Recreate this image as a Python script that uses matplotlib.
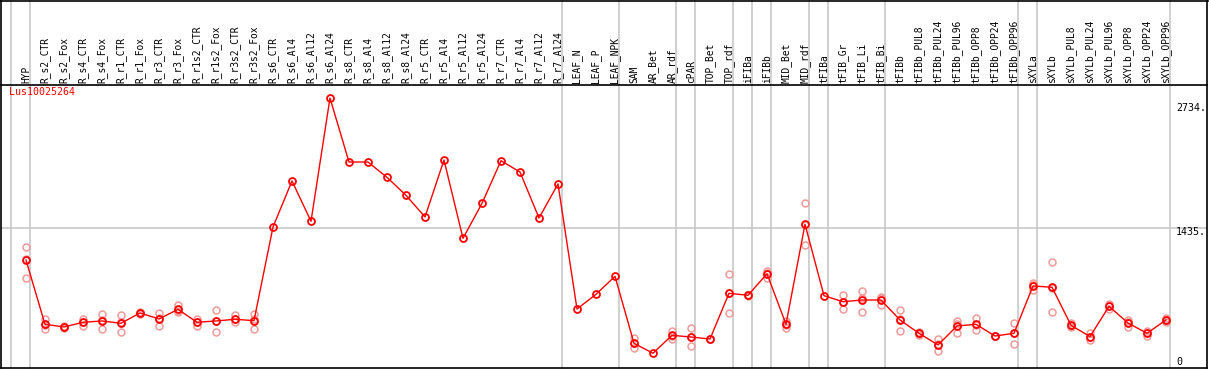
import matplotlib
matplotlib.use("Agg")
import matplotlib.pyplot as plt
from matplotlib.lines import Line2D
from matplotlib.transforms import blended_transform_factory

# sample names along the x axis
samples = [
    "HYP", "R_s2_CTR", "R_s2_Fox", "R_s4_CTR", "R_s4_Fox", "R_r1_CTR", "R_r1_Fox",
    "R_r3_CTR", "R_r3_Fox", "R_r1s2_CTR", "R_r1s2_Fox", "R_r3s2_CTR", "R_r3s2_Fox",
    "R_s6_CTR", "R_s6_Al4", "R_s6_Al12", "R_s6_Al24", "R_s8_CTR", "R_s8_Al4",
    "R_s8_Al12", "R_s8_Al24", "R_r5_CTR", "R_r5_Al4", "R_r5_Al12", "R_r5_Al24",
    "R_r7_CTR", "R_r7_Al4", "R_r7_Al12", "R_r7_Al24", "LEAF_N", "LEAF_P", "LEAF_NPK",
    "SAM", "AR_Bet", "AR_rdf", "cPAR", "TOP_Bet", "TOP_rdf", "iFIBa", "iFIBb",
    "MID_Bet", "MID_rdf", "tFIBa", "tFIB_Gr", "tFIB_Li", "tFIB_Bi", "tFIBb",
    "tFIBb_PUL8", "tFIBb_PUL24", "tFIBb_PUL96", "tFIBb_OPP8", "tFIBb_OPP24",
    "tFIBb_OPP96", "sXYLa", "sXYLb", "sXYLb_PUL8", "sXYLb_PUL24", "sXYLb_PUL96",
    "sXYLb_OPP8", "sXYLb_OPP24", "sXYLb_OPP96",
]

# mean expression per sample
means = [
    1119, 478, 451, 498, 511, 488, 591, 531, 627, 498, 511, 528, 514,
    1448, 1907, 1505, 2734, 2096, 2096, 1943, 1764, 1548, 2116, 1335, 1684,
    2109, 1996, 1538, 1877, 630, 777, 956,
    288, 189, 368, 351, 331, 787, 767, 982, 478, 1475,
    763, 703, 720, 720, 521, 388, 272, 461, 478, 361, 388,
    860, 847, 468, 355, 657, 491, 388, 521,
]

# individual replicates (empty where only the mean is shown)
replicates = [
    [1245, 1132, 936], [534, 470, 431], [461, 451, 441], [534, 498, 464],
    [578, 520, 435], [568, 498, 398], [600, 591, 582], [591, 538, 464],
    [673, 610, 598], [534, 498, 464], [621, 514, 398], [568, 528, 498],
    [578, 530, 435],
    [], [], [], [], [], [], [], [], [], [], [], [], [], [], [], [], [], [], [],
    [338, 288, 245], [], [414, 365, 328], [441, 350, 262], [335, 331, 327],
    [976, 790, 588], [770, 767, 764], [1012, 992, 939], [514, 475, 444],
    [1690, 1470, 1265],
    [], [767, 705, 634], [810, 745, 604], [753, 740, 667], [617, 535, 411],
    [405, 385, 375], [328, 280, 208], [511, 477, 395], [541, 468, 425],
    [365, 361, 357], [491, 388, 285],
    [887, 873, 820], [1096, 844, 601], [488, 461, 455], [388, 356, 321],
    [677, 660, 634], [521, 497, 455], [411, 392, 361], [541, 518, 505],
]

# last sample index of each tissue group
group_ends = [-1, 0, 28, 31, 34, 35, 37, 38, 39, 41, 42, 45, 52, 53, 60]

gene = "Lus10025264"
ref_lines = [1435]
y_labels = ["2734.", "1435.", "0"]

W, H = 1209, 370
fig = plt.figure(figsize=(W / 100, H / 100), dpi=100)
fig.patch.set_facecolor("white")

top_px, bot_px, left_px, right_px = 85, 368, 1, 1207
ax = fig.add_axes([left_px / W, (H - bot_px) / H,
                   (right_px - left_px) / W, (bot_px - top_px) / H])
ax.set_xlim((left_px - 26) / 19, (right_px - 26) / 19)
ax.set_ylim(42, 2864)
ax.axis("off")

gray = "#c8c8c8"
trans = blended_transform_factory(ax.transData, ax.transAxes)
top_ax = bot_px / (bot_px - top_px)
for g in group_ends:
    ax.plot([g + 0.22, g + 0.22], [0, top_ax], color=gray, lw=1.2,
            transform=trans, clip_on=False, zorder=1)
for v in ref_lines:
    ax.axhline(v, color=gray, lw=1.2, zorder=1)

xs = list(range(len(samples)))
rx, ry = [], []
for i, reps in enumerate(replicates):
    for r in reps:
        rx.append(i)
        ry.append(r)
ax.plot(rx, ry, "o", ms=5, mfc="none", mec="#f09a9a", mew=1.1, zorder=2)
ax.plot(xs, means, "-", color="red", lw=1.0, zorder=3)
ax.plot(xs, means, "o", ms=5, mfc="none", mec="red", mew=1.3, zorder=4)

for i, name in enumerate(samples):
    ax.text(i, 1 + 2 / (bot_px - top_px), name, transform=trans, rotation=90,
            ha="center", va="bottom", fontsize=6.9, family="DejaVu Sans Mono")

ax.text(8 / (right_px - left_px), 0.975, gene, transform=ax.transAxes, color="red",
        ha="left", va="center", fontsize=7.2, family="DejaVu Sans Mono")

for lab, ypx in zip(y_labels, [108, 232, 362]):
    ax.text((1176 - left_px) / (right_px - left_px), (bot_px - ypx) / (bot_px - top_px),
            lab, transform=ax.transAxes, ha="left", va="center", fontsize=7.2,
            family="DejaVu Sans Mono")

# outer frame and the rule under the labels
def fig_line(x0, y0, x1, y1, lw=1.2):
    fig.add_artist(Line2D([x0 / W, x1 / W], [1 - y0 / H, 1 - y1 / H],
                          color="black", lw=lw, transform=fig.transFigure))

fig_line(1, 0.5, 1208, 0.5)
fig_line(1, 0, 1, bot_px)
fig_line(1207, 0, 1207, bot_px)
fig_line(1, bot_px, 1207, bot_px)
fig_line(1, top_px, 1207, top_px)

fig.savefig("out.png", dpi=100)
